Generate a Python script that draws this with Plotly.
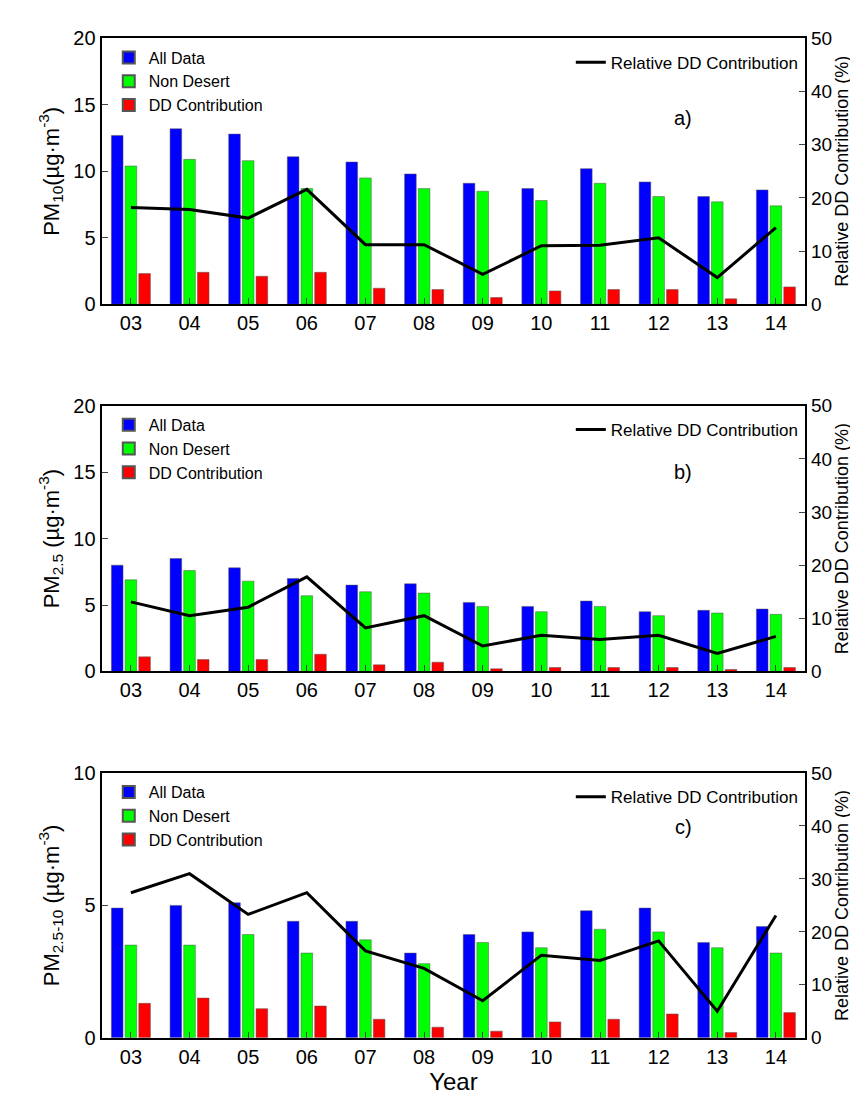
import plotly.graph_objects as go
from plotly.subplots import make_subplots

years = ["03", "04", "05", "06", "07", "08", "09", "10", "11", "12", "13", "14"]

pm10_all = [12.7, 13.2, 12.8, 11.1, 10.7, 9.8, 9.1, 8.7, 10.2, 9.2, 8.1, 8.6]
pm10_non = [10.4, 10.9, 10.8, 8.7, 9.5, 8.7, 8.5, 7.8, 9.1, 8.1, 7.7, 7.4]
pm10_dd = [2.3, 2.4, 2.1, 2.4, 1.2, 1.1, 0.5, 1.0, 1.1, 1.1, 0.4, 1.3]
pm10_rel = [18.2, 17.8, 16.2, 21.6, 11.2, 11.2, 5.6, 11.0, 11.1, 12.5, 5.0, 14.4]

pm25_all = [8.0, 8.5, 7.8, 7.0, 6.5, 6.6, 5.2, 4.9, 5.3, 4.5, 4.6, 4.7]
pm25_non = [6.9, 7.6, 6.8, 5.7, 6.0, 5.9, 4.9, 4.5, 4.9, 4.2, 4.4, 4.3]
pm25_dd = [1.1, 0.9, 0.9, 1.3, 0.5, 0.7, 0.2, 0.3, 0.3, 0.3, 0.15, 0.3]
pm25_rel = [13.1, 10.5, 12.1, 17.8, 8.2, 10.5, 4.8, 6.8, 6.0, 6.8, 3.4, 6.6]

pmc_all = [4.9, 5.0, 5.1, 4.4, 4.4, 3.2, 3.9, 4.0, 4.8, 4.9, 3.6, 4.2]
pmc_non = [3.5, 3.5, 3.9, 3.2, 3.7, 2.8, 3.6, 3.4, 4.1, 4.0, 3.4, 3.2]
pmc_dd = [1.3, 1.5, 1.1, 1.2, 0.7, 0.4, 0.25, 0.6, 0.7, 0.9, 0.2, 0.95]
pmc_rel = [27.4, 31.0, 23.3, 27.4, 16.4, 13.1, 7.0, 15.6, 14.6, 18.3, 5.0, 23.1]

panels = [
    (pm10_all, pm10_non, pm10_dd, pm10_rel, 20, "PM<sub>10</sub>(µg·m<sup>-3</sup>)", "a)"),
    (pm25_all, pm25_non, pm25_dd, pm25_rel, 20, "PM<sub>2.5</sub> (µg·m<sup>-3</sup>)", "b)"),
    (pmc_all, pmc_non, pmc_dd, pmc_rel, 10, "PM<sub>2.5-10</sub> (µg·m<sup>-3</sup>)", "c)"),
]

# plot area: l=90, r=50, t=13, b=67
domains = [(0.724, 0.983), (0.366, 0.625), (0.009, 0.267)]
xdom = [0.005, 0.985]

fig = make_subplots(rows=3, cols=1, specs=[[{"secondary_y": True}]] * 3)
font = dict(family="Liberation Sans, Arial", color="black")

for i, (a, n, d, rel, ymax, ylab, tag) in enumerate(panels):
    r = i + 1
    bl = "legend" if i == 0 else f"legend{2 * i + 1}"
    ll = f"legend{2 * i + 2}"
    for name, vals, col in [("All Data", a, "#0000ff"), ("Non Desert", n, "#00ff00"), ("DD Contribution", d, "#ff0000")]:
        fig.add_trace(go.Bar(x=years, y=vals, name=name, marker=dict(color=col, line=dict(color="#555", width=0.5)),
                             legend=bl), row=r, col=1, secondary_y=False)
    fig.add_trace(go.Scatter(x=years, y=rel, mode="lines", name="Relative DD Contribution",
                             line=dict(color="black", width=3), legend=ll), row=r, col=1, secondary_y=True)
    y0, y1 = domains[i]
    fig.update_yaxes(range=[0, ymax], dtick=5, ticks="inside", ticklen=6, showgrid=False, zeroline=False,
                     showline=True, linecolor="black", linewidth=2, tickfont=dict(size=20, **font),
                     title=dict(text=ylab, font=dict(size=22, **font), standoff=8), domain=[y0, y1],
                     automargin=False, row=r, col=1, secondary_y=False)
    fig.update_yaxes(range=[0, 50], dtick=10, ticks="inside", ticklen=6, showgrid=False, zeroline=False,
                     showline=True, linecolor="black", linewidth=2, tickfont=dict(size=19, **font),
                     title=dict(text="Relative DD Contribution (%)", font=dict(size=18, **font), standoff=0),
                     domain=[y0, y1], automargin=False, row=r, col=1, secondary_y=True)
    fig.update_xaxes(ticks="inside", ticklen=6, showline=True, mirror=True, linecolor="black", linewidth=2,
                     tickfont=dict(size=20, **font), domain=xdom, automargin=False, row=r, col=1)
    fig.add_annotation(text=tag, xref="paper", yref="paper", x=0.83, y=y1 - 0.065, showarrow=False,
                       font=dict(size=20, **font))
    lg_bars = dict(x=xdom[0] + 0.01, y=y1 - 0.002, xanchor="left", yanchor="top", bgcolor="rgba(0,0,0,0)",
                   font=dict(size=16, **font), tracegroupgap=0, itemsizing="constant")
    lg_line = dict(x=xdom[1] - 0.002, y=y1 - 0.006, xanchor="right", yanchor="top", bgcolor="rgba(0,0,0,0)",
                   font=dict(size=17, **font))
    fig.update_layout({bl: lg_bars, ll: lg_line})

fig.update_xaxes(title=dict(text="Year", font=dict(size=24, **font), standoff=4), row=3, col=1)

fig.update_layout(width=858, height=1106, margin=dict(l=90, r=50, t=13, b=67, autoexpand=False),
                  barmode="group", bargap=0.3, bargroupgap=0.15, plot_bgcolor="white", paper_bgcolor="white")

fig.write_html("out.html")
